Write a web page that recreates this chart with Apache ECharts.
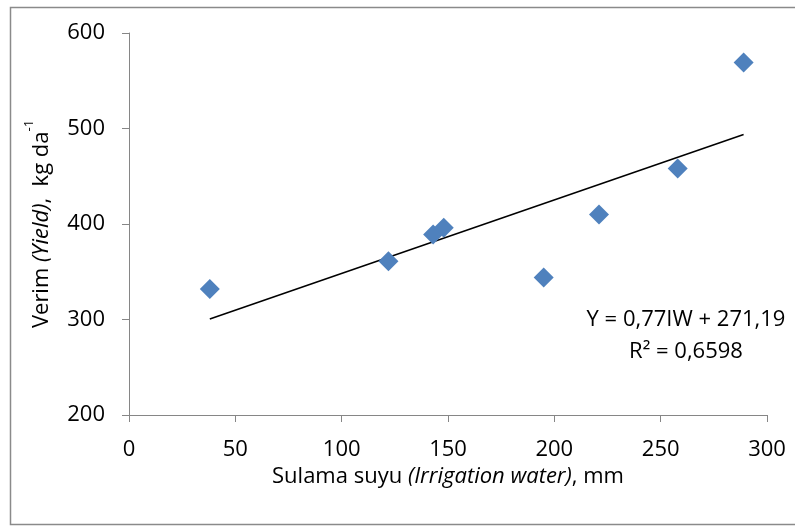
<!DOCTYPE html>
<html><head><meta charset="utf-8">
<script src="https://cdn.jsdelivr.net/npm/echarts@6/dist/echarts.min.js"></script>
<style>html,body{margin:0;padding:0;background:#fff}#c{width:795px;height:526px}</style>
</head><body><div id="c"></div>
<script>
var waterX = [38, 122, 143, 148, 195, 221, 258, 289];
var yieldY = [332, 361, 389, 396, 344, 410, 458, 569];
var trendX = [38, 289];
var trendY = [300.5, 493.7];
var xTicks = [0, 50, 100, 150, 200, 250, 300];
var yTicks = [200, 300, 400, 500, 600];
var eqLine1 = 'Y = 0,77IW + 271,19';
var eqLine2 = 'R² = 0,6598';

var FONT = '"Open Sans", "Liberation Sans", sans-serif';
var FS = 22;
var chart = echarts.init(document.getElementById('c'), null, {renderer: 'canvas'});
chart.setOption({
  animation: false,
  backgroundColor: '#fff',
  grid: {left: 129, right: 28, top: 33, bottom: 111},
  xAxis: {
    type: 'value', min: xTicks[0], max: xTicks[xTicks.length-1], interval: 50,
    axisLine: {show: true, lineStyle: {color: '#868686', width: 1}},
    axisTick: {show: true, inside: false, length: 7, lineStyle: {color: '#868686'}},
    splitLine: {show: false},
    axisLabel: {color: '#000', fontFamily: FONT, fontSize: FS, margin: 24},
    name: '{n|Sulama suyu }{i|(Irrigation water)}{n|, mm}',
    nameLocation: 'middle', nameGap: 48,
    nameTextStyle: {rich: {
      n: {fontFamily: FONT, fontSize: FS, color: '#000'},
      i: {fontFamily: FONT, fontSize: FS, color: '#000', fontStyle: 'italic'}
    }}
  },
  yAxis: {
    type: 'value', min: yTicks[0], max: yTicks[yTicks.length-1], interval: 100,
    axisLine: {show: true, lineStyle: {color: '#868686', width: 1}},
    axisTick: {show: true, inside: false, length: 7, lineStyle: {color: '#868686'}},
    splitLine: {show: false},
    axisLabel: {color: '#000', fontFamily: FONT, fontSize: FS, margin: 24},
    name: '{n|Verim }{i|(Yield)}{n|,  kg da}{s|-1}',
    nameLocation: 'middle', nameGap: 76, nameRotate: 90,
    nameTextStyle: {rich: {
      n: {fontFamily: FONT, fontSize: FS, color: '#000', lineHeight: 30, verticalAlign: 'bottom'},
      i: {fontFamily: FONT, fontSize: FS, color: '#000', fontStyle: 'italic', lineHeight: 30, verticalAlign: 'bottom'},
      s: {fontFamily: FONT, fontSize: 13, color: '#000', lineHeight: 30, verticalAlign: 'top'}
    }}
  },
  graphic: [
    {type: 'rect', shape: {x: 10.5, y: 7.5, width: 800, height: 517}, style: {fill: 'none', stroke: '#8a8a8a', lineWidth: 1.5}, z: 100},
    {type: 'text', position: [686, 320], style: {text: eqLine1, fontFamily: FONT, fontSize: FS, fill: '#000', textAlign: 'center', textVerticalAlign: 'middle'}},
    {type: 'text', position: [686, 352], style: {text: eqLine2, fontFamily: FONT, fontSize: FS, fill: '#000', textAlign: 'center', textVerticalAlign: 'middle'}}
  ],
  series: [
    {type: 'line', data: trendX.map(function(x, i){return [x, trendY[i]];}), showSymbol: false, symbol: 'none',
     lineStyle: {color: '#000', width: 1.5}, z: 1},
    {type: 'scatter', data: waterX.map(function(x, i){return [x, yieldY[i]];}), symbol: 'diamond', symbolSize: 20,
     itemStyle: {color: '#4F81BD', opacity: 1}, z: 2}
  ]
});
</script></body></html>
